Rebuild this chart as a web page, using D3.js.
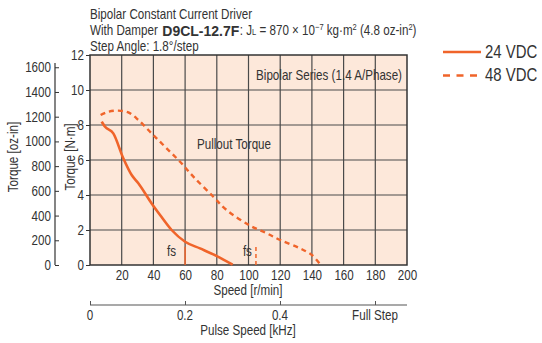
<!DOCTYPE html>
<html><head><meta charset="utf-8">
<script src="https://cdn.jsdelivr.net/npm/d3@7/dist/d3.min.js"></script>
<style>
body{margin:0;background:#fff;}
svg text{font-family:"Liberation Sans",Arial,sans-serif;fill:#333;}
</style></head><body>
<script>
const speed24 = [7.4, 9.5, 14.7, 21, 26.3, 30.5, 38.9, 44.2, 51.5, 60, 69.4, 80, 90];
const torque24 = [8.19, 7.9, 7.52, 6.1, 5.14, 4.67, 3.52, 2.86, 2.0, 1.33, 0.95, 0.51, 0.02];
const speed48 = [6.7, 11.6, 17.9, 24.2, 30.5, 38.9, 47.3, 56.8, 65.2, 77.8, 86.2, 101, 111.5, 120, 132.5, 140, 144.7];
const torque48 = [8.57, 8.76, 8.82, 8.72, 8.29, 7.52, 6.76, 5.9, 5.05, 3.9, 3.14, 2.25, 1.81, 1.43, 0.95, 0.57, 0.1];
const fs24 = 60, fs48 = 104.7, fsTorque = 1.05;
const speedTicks = [20,40,60,80,100,120,140,160,180,200];
const nmTicks = [0,2,4,6,8,10,12];
const ozTicks = [0,200,400,600,800,1000,1200,1400,1600];
const pulseTicks = [0,0.2,0.4,0.6];
const pulseLabels = ["0","0.2","0.4","Full Step"];
const seriesNames = ["24 VDC","48 VDC"];
const orange = "#f0642a";
const SQ = 0.83;

const W=542,H=343;
const svg=d3.select("body").append("svg").attr("width",W).attr("height",H);
const x=d3.scaleLinear().domain([0,200]).range([90,407]);
const y=d3.scaleLinear().domain([0,12]).range([265,55]);
const yOz=d3.scaleLinear().domain([0,12*141.6]).range([265,55]);
const xP=d3.scaleLinear().domain([0,0.6]).range([90,375]);

// condense text horizontally around its x anchor
function sq(sel,f=SQ){
  sel.each(function(){
    const ax=+(this.getAttribute("x")||0);
    const prev=this.getAttribute("transform")||"";
    this.setAttribute("transform",prev+` translate(${ax*(1-f)},0) scale(${f},1)`);
  });
  return sel;
}

// plot background
svg.append("rect").attr("x",90).attr("y",55).attr("width",317).attr("height",210).attr("fill","#fde8da");
// grid
svg.append("g").selectAll("line").data(speedTicks.slice(0,-1)).join("line")
 .attr("x1",d=>x(d)).attr("x2",d=>x(d)).attr("y1",55).attr("y2",265).attr("stroke","#4a4a4a").attr("stroke-width",1.2);
svg.append("g").selectAll("line").data(nmTicks.slice(1,-1)).join("line")
 .attr("x1",90).attr("x2",407).attr("y1",d=>y(d)).attr("y2",d=>y(d)).attr("stroke","#4a4a4a").attr("stroke-width",1.2);
svg.append("rect").attr("x",90).attr("y",55).attr("width",317).attr("height",210).attr("fill","none").attr("stroke","#333").attr("stroke-width",1.5);

const FF="Liberation Sans, Arial, sans-serif";
// x axis labels
const xa=svg.append("g").attr("transform","translate(0,265)").call(d3.axisBottom(x).tickValues(speedTicks).tickSize(0).tickPadding(5));
xa.select(".domain").remove();
sq(xa.selectAll("text").attr("font-size",14).attr("fill","#333").attr("font-family",FF));
// N·m axis labels
const ya=svg.append("g").attr("transform","translate(90,0)").call(d3.axisLeft(y).tickValues(nmTicks).tickSize(4).tickPadding(2));
ya.select(".domain").remove();
ya.selectAll("line").attr("stroke","#333");
sq(ya.selectAll("text").attr("font-size",14).attr("fill","#333").attr("font-family",FF));
// oz-in axis
const yo=svg.append("g").attr("transform","translate(55,0)").call(d3.axisRight(yOz).tickValues(ozTicks).tickFormat(d3.format("d")).tickSize(4).tickSizeOuter(0));
yo.select(".domain").attr("d","M0,63V265").attr("stroke","#333").attr("stroke-width",1.2);
yo.selectAll("line").attr("stroke","#333");
sq(yo.selectAll("text").attr("x",-4).attr("text-anchor","end").attr("font-size",14).attr("fill","#333").attr("font-family",FF));
// pulse axis
const pa=svg.append("g").attr("transform","translate(0,305)").call(d3.axisTop(xP).tickValues(pulseTicks).tickSize(4).tickSizeOuter(0));
pa.select(".domain").attr("d","M90,0H407").attr("stroke","#555").attr("stroke-width",1.2);
pa.selectAll("line").attr("stroke","#555");
pa.selectAll("text").remove();
sq(svg.append("g").selectAll("text").data(pulseTicks).join("text")
 .attr("x",d=>xP(d)).attr("y",320).attr("font-size",14)
 .attr("text-anchor","middle").text((d,i)=>pulseLabels[i]));

// axis titles
sq(svg.append("text").attr("x",248).attr("y",295).attr("text-anchor","middle").attr("font-size",14).text("Speed [r/min]"));
sq(svg.append("text").attr("x",248).attr("y",335).attr("text-anchor","middle").attr("font-size",14).text("Pulse Speed [kHz]"));
sq(svg.append("text").attr("transform","translate(18,157) rotate(-90)").attr("text-anchor","middle").attr("font-size",14).text("Torque [oz-in]"));
sq(svg.append("text").attr("transform","translate(75,157) rotate(-90)").attr("text-anchor","middle").attr("font-size",14).text("Torque [N·m]"));

// title
sq(svg.append("text").attr("x",90).attr("y",19.5).attr("font-size",14).text("Bipolar Constant Current Driver"));
const tA=svg.append("text").attr("x",90).attr("y",35.5).attr("font-size",14).text("With Damper");
const wA=tA.node().getComputedTextLength()*SQ; sq(tA);
const bx=90+wA+4.5;
const tB=svg.append("text").attr("x",bx).attr("y",35.5).attr("font-size",14).attr("font-weight","bold").text("D9CL-12.7F");
const wB=tB.node().getComputedTextLength();
const tC=svg.append("text").attr("x",bx+wB+0.5).attr("y",35.5).attr("font-size",14);
tC.append("tspan").text(": J");
tC.append("tspan").attr("font-size",9).text("L");
tC.append("tspan").text(" = 870 × 10");
tC.append("tspan").attr("font-size",9).attr("dy",-5).text("−7");
tC.append("tspan").attr("dy",5).text(" kg·m");
tC.append("tspan").attr("font-size",9).attr("dy",-5).text("2");
tC.append("tspan").attr("dy",5).text(" (4.8 oz-in");
tC.append("tspan").attr("font-size",9).attr("dy",-5).text("2");
tC.append("tspan").attr("dy",5).text(")");
sq(tC);
sq(svg.append("text").attr("x",90).attr("y",51.5).attr("font-size",14).text("Step Angle: 1.8°/step"));

// annotations
sq(svg.append("text").attr("x",402).attr("y",80).attr("text-anchor","end").attr("font-size",14).text("Bipolar Series (1.4 A/Phase)"));
sq(svg.append("text").attr("x",197).attr("y",149).attr("font-size",14).text("Pullout Torque"));
sq(svg.append("text").attr("x",x(fs24)-9).attr("y",256).attr("text-anchor","end").attr("font-size",14).text("fs"));
sq(svg.append("text").attr("x",x(fs48)-4).attr("y",256).attr("text-anchor","end").attr("font-size",14).text("fs"));

// curves
const line=d3.line().x(d=>x(d[0])).y(d=>y(d[1])).curve(d3.curveMonotoneX);
const d24=speed24.map((s,i)=>[s,torque24[i]]);
const d48=speed48.map((s,i)=>[s,torque48[i]]);
svg.append("path").attr("d",line(d24)).attr("fill","none").attr("stroke",orange).attr("stroke-width",2.6);
svg.append("path").attr("d",d3.line().x(d=>x(d[0])).y(d=>y(d[1])).curve(d3.curveCatmullRom)(d48)).attr("fill","none").attr("stroke",orange).attr("stroke-width",2.4).attr("stroke-dasharray","5,4");
svg.append("line").attr("x1",x(fs24)).attr("x2",x(fs24)).attr("y1",y(0)).attr("y2",y(fsTorque)).attr("stroke",orange).attr("stroke-width",1.5);
svg.append("line").attr("x1",x(fs48)).attr("x2",x(fs48)).attr("y1",y(0)).attr("y2",y(fsTorque)).attr("stroke",orange).attr("stroke-width",1.5).attr("stroke-dasharray","4,3");

// legend
const lg=svg.append("g");
seriesNames.forEach((n,i)=>{
  lg.append("line").attr("x1",443).attr("x2",481).attr("y1",52+i*23.5).attr("y2",52+i*23.5)
    .attr("stroke",orange).attr("stroke-width",2.4).attr("stroke-dasharray",i?"7,6.5":null);
  sq(lg.append("text").attr("x",485).attr("y",58+i*23.5).attr("font-size",18).text(n));
});
</script></body></html>
